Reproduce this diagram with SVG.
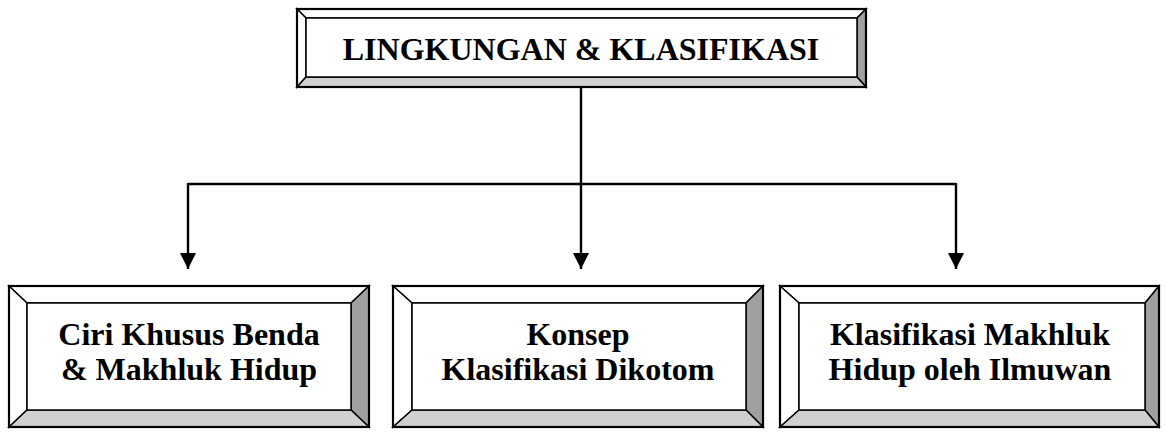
<svg xmlns="http://www.w3.org/2000/svg" width="1166" height="433" viewBox="0 0 1166 433">
<defs>
<style>
.b{stroke:#000;stroke-width:1.5;stroke-linejoin:miter}
.w{fill:#fff}
.l{fill:#d0d0d0}
.d{fill:#a0a0a0}
.o{fill:none;stroke:#000;stroke-width:2.2}
.t{font-family:"Liberation Serif","Times New Roman",serif;font-weight:bold;font-size:32px;text-anchor:middle;fill:#000}
.c{fill:none;stroke:#000;stroke-width:2.4}
</style>
<marker id="ah" markerUnits="userSpaceOnUse" markerWidth="16" markerHeight="16" viewBox="0 0 16 16" refX="16" refY="8" orient="auto">
<path d="M0,0 L16,8 L0,16 Z" fill="#000"/>
</marker>
</defs>
<rect width="1166" height="433" fill="#fff"/>

<g id="connectors">
<path class="c" d="M581,87 V184"/>
<path class="c" d="M188,184 H956"/>
<path class="c" d="M188,183 V269" marker-end="url(#ah)"/>
<path class="c" d="M581,184 V269" marker-end="url(#ah)"/>
<path class="c" d="M956,183 V269" marker-end="url(#ah)"/>
</g>

<g id="top">
<polygon class="b w" points="297,9 866,9 857,18 306,18"/>
<polygon class="b w" points="297,9 306,18 306,77 297,87"/>
<polygon class="b d" points="866,9 866,87 857,77 857,18"/>
<polygon class="b l" points="297,87 306,77 857,77 866,87"/>
<rect class="b w" x="306" y="18" width="551" height="59"/>
<rect class="o" x="297" y="9" width="569" height="78"/>
<text class="t" x="581" y="60">LINGKUNGAN &amp; KLASIFIKASI</text>
</g>

<g id="n1">
<polygon class="b w" points="9,286 369,286 351,303 27,303"/>
<polygon class="b w" points="9,286 27,303 27,410 9,427"/>
<polygon class="b d" points="369,286 369,427 351,410 351,303"/>
<polygon class="b l" points="9,427 27,410 351,410 369,427"/>
<rect class="b w" x="27" y="303" width="324" height="107"/>
<rect class="o" x="9" y="286" width="360" height="141"/>
<text class="t" x="189" y="345">Ciri Khusus Benda</text>
<text class="t" x="189" y="380">&amp; Makhluk Hidup</text>
</g>

<g id="n2">
<polygon class="b w" points="393,286 763,286 746,303 412,303"/>
<polygon class="b w" points="393,286 412,303 412,410 393,427"/>
<polygon class="b d" points="763,286 763,427 746,410 746,303"/>
<polygon class="b l" points="393,427 412,410 746,410 763,427"/>
<rect class="b w" x="412" y="303" width="334" height="107"/>
<rect class="o" x="393" y="286" width="370" height="141"/>
<text class="t" x="578" y="345">Konsep</text>
<text class="t" x="578" y="380">Klasifikasi Dikotom</text>
</g>

<g id="n3">
<polygon class="b w" points="780,286 1159,286 1145,303 799,303"/>
<polygon class="b w" points="780,286 799,303 799,410 780,427"/>
<polygon class="b d" points="1159,286 1159,427 1145,410 1145,303"/>
<polygon class="b l" points="780,427 799,410 1145,410 1159,427"/>
<rect class="b w" x="799" y="303" width="346" height="107"/>
<rect class="o" x="780" y="286" width="379" height="141"/>
<text class="t" x="970" y="345">Klasifikasi Makhluk</text>
<text class="t" x="970" y="380">Hidup oleh Ilmuwan</text>
</g>
</svg>
